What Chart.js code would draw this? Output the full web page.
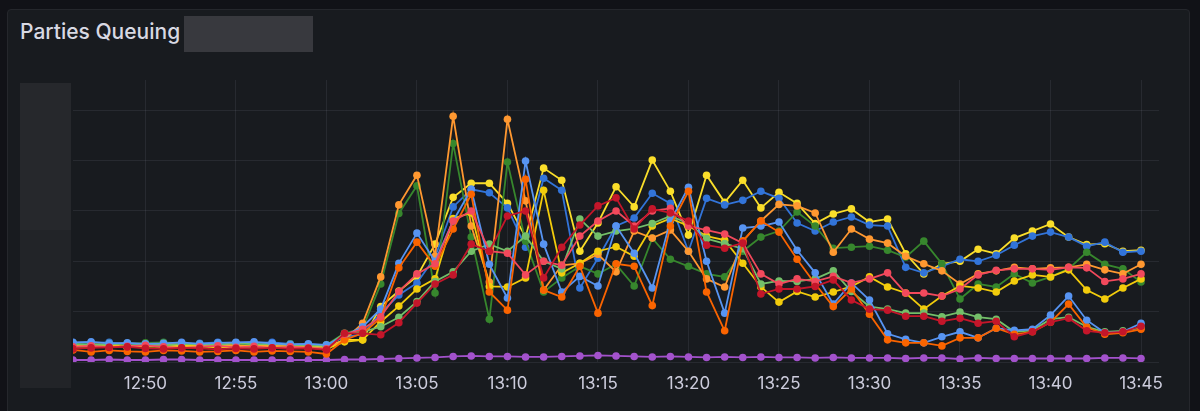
<!DOCTYPE html>
<html>
<head>
<meta charset="utf-8">
<script src="https://cdn.jsdelivr.net/npm/chart.js@4.4.1/dist/chart.umd.min.js"></script>
<style>
  html, body { margin: 0; padding: 0; background: #111217; width: 1200px; height: 411px; overflow: hidden; font-family: Inter, "Noto Sans", sans-serif; }
  .panel { position: absolute; left: 7px; top: 9px; width: 1183px; height: 430px; background: #181b1f; border: 1px solid #25272c; border-radius: 4px; box-sizing: border-box; }
  .title { position: absolute; left: 20px; top: 18px; font-size: 21px; font-weight: 500; color: #d8d9e3; line-height: 28px; }
  .hide-title { position: absolute; left: 184px; top: 16px; width: 129px; height: 36px; background: #38393e; }
  .hide-y1 { position: absolute; left: 20px; top: 83px; width: 51px; height: 147px; background: #26282c; z-index: 2; }
  .hide-y2 { position: absolute; left: 20px; top: 230px; width: 51px; height: 158px; background: #222428; z-index: 2; }
  #wrap { position: absolute; left: 20px; top: 70px; width: 1155px; height: 335px; }
</style>
</head>
<body>
<div class="panel"></div>
<div class="title">Parties Queuing</div>
<div class="hide-title"></div>
<div class="hide-y1"></div>
<div class="hide-y2"></div>
<div id="wrap"><canvas id="queueChart"></canvas></div>
<script>
const times = [
  "12:46","12:47","12:48","12:49","12:50","12:51","12:52","12:53","12:54","12:55",
  "12:56","12:57","12:58","12:59","13:00","13:01","13:02","13:03","13:04","13:05",
  "13:06","13:07","13:08","13:09","13:10","13:11","13:12","13:13","13:14","13:15",
  "13:16","13:17","13:18","13:19","13:20","13:21","13:22","13:23","13:24","13:25",
  "13:26","13:27","13:28","13:29","13:30","13:31","13:32","13:33","13:34","13:35",
  "13:36","13:37","13:38","13:39","13:40","13:41","13:42","13:43","13:44","13:45"
];
const xTickLabels = ["12:50","12:55","13:00","13:05","13:10","13:15","13:20","13:25","13:30","13:35","13:40","13:45"];
const xStart = "12:46";
const xEnd = "13:46";
const yTicks = [0, 10, 20, 30, 40, 50];
const yMax = 56;

const redDark = [
  2.6,2.8,2.9,3.0,2.7,2.6,2.8,2.7,2.5,2.7,2.6,2.8,2.6,2.7,2.4,
  5.7,5.7,5.4,7.8,11.7,15.5,17.3,23.4,22.0,29.0,
  30.0,16.7,22.8,27.2,31.0,32.6,26.4,30.4,29.6,28.0,
  23.2,22.6,23.6,13.5,14.5,14.5,15.0,16.3,12.3,10.5,
  10.3,9.1,9.1,8.1,8.7,7.7,8.1,5.0,6.0,7.9,
  8.7,6.2,5.8,6.0,7.1
];
const redLight = [
  3.0,3.2,2.9,3.1,3.3,3.0,2.8,3.0,3.2,2.9,3.1,2.8,3.0,2.8,2.6,
  5.5,6.5,9.0,14.0,17.5,19.5,28.0,30.0,22.0,21.6,
  17.3,20.0,19.2,25.0,28.0,30.0,27.0,30.0,30.5,27.0,
  26.2,25.4,23.6,17.5,15.5,16.5,16.0,17.0,15.7,16.5,
  17.7,13.7,13.7,13.1,14.5,17.3,18.2,18.5,18.5,18.3,
  18.8,18.7,16.0,16.5,17.5
];
const orangeDark = [
  2.4,2.0,2.3,2.1,2.0,2.3,2.2,2.0,2.1,2.3,2.0,2.2,2.1,2.0,1.6,
  4.4,5.7,8.7,18.7,23.8,19.0,26.4,33.3,13.9,10.3,
  36.3,14.3,12.9,19.0,9.7,19.5,19.0,11.2,27.0,33.9,
  13.9,6.2,24.0,28.0,25.8,20.4,15.5,11.0,14.5,9.5,
  4.4,3.8,3.8,3.2,4.8,4.8,6.7,5.5,6.0,7.9,
  11.5,6.9,5.5,5.8,6.5
];
const orangeLight = [
  3.2,3.5,3.4,3.0,3.3,3.6,3.4,3.2,3.5,3.3,3.1,3.4,3.2,3.0,2.6,
  4.4,7.7,16.9,31.2,37.1,21.0,48.8,27.0,15.9,48.2,
  32.0,14.3,19.2,19.6,21.4,17.9,26.0,24.6,26.2,22.0,
  16.5,14.9,24.0,28.0,31.3,31.0,29.6,21.8,26.4,24.4,
  23.6,21.0,19.5,18.1,15.5,17.5,18.1,18.8,18.5,18.7,
  18.8,19.4,18.3,17.5,19.4
];
const greenDark = [
  3.8,3.9,3.7,3.6,3.8,3.9,3.7,3.6,3.5,3.7,3.4,3.5,3.6,3.3,3.4,
  5.7,6.7,15.5,29.5,35.0,13.7,43.4,24.8,8.5,39.7,
  24.0,13.9,16.7,19.0,17.5,19.4,15.1,24.6,20.4,19.0,
  17.5,16.9,22.0,24.8,26.0,29.8,27.0,22.6,22.8,23.0,
  22.2,20.8,24.0,19.5,12.5,15.5,14.9,17.5,15.7,16.9,
  18.5,21.8,19.4,18.5,15.9
];
const greenLight = [
  3.6,3.4,3.5,3.7,3.5,3.3,3.6,3.5,3.4,3.8,3.5,3.6,3.4,3.3,3.2,
  5.7,6.0,7.0,8.9,12.0,16.0,17.9,22.0,23.4,22.0,
  25.0,20.0,18.5,28.4,25.0,26.0,26.5,27.5,29.0,27.5,
  24.5,23.5,22.5,15.5,16.1,16.0,16.5,18.1,14.0,11.0,
  10.5,9.7,9.7,9.0,9.9,8.9,8.5,6.0,6.3,8.5,
  8.9,7.0,6.0,6.2,6.8
];
const yellowA = [
  3.5,3.3,3.6,3.4,3.2,3.5,3.3,3.4,3.2,3.3,3.5,3.2,3.3,3.1,3.0,
  4.4,4.4,11.0,14.1,17.0,23.4,32.7,35.5,35.5,31.5,
  24.8,38.5,36.1,22.0,27.6,34.8,30.8,40.1,33.9,25.2,
  37.1,31.7,36.1,30.6,33.7,31.5,27.5,29.4,30.4,27.8,
  28.4,21.5,17.5,19.5,20.0,22.4,21.5,24.6,26.0,27.4,
  24.8,23.3,23.5,22.0,22.2
];
const yellowB = [
  3.1,3.0,3.2,2.9,3.1,3.0,3.2,3.1,2.9,3.0,3.1,3.0,2.9,2.8,2.6,
  4.0,4.4,8.0,11.1,14.5,16.5,28.5,29.6,15.0,14.9,
  16.7,34.1,17.7,19.6,22.0,22.9,21.0,27.0,28.5,27.0,
  25.0,24.2,19.6,14.9,11.9,14.0,12.9,13.9,15.0,16.9,
  14.9,13.7,10.5,13.1,15.1,14.7,13.9,16.1,17.3,16.9,
  18.3,14.3,12.5,14.7,16.5
];
const blueDark = [
  3.7,3.8,3.9,3.5,3.6,3.8,3.6,3.7,3.9,3.6,3.8,3.9,3.6,3.5,3.3,
  5.0,5.5,9.7,13.3,15.7,20.8,30.8,34.3,33.6,30.6,
  22.8,36.5,34.1,14.7,20.6,27.0,28.6,33.5,31.5,22.0,
  32.5,31.2,32.1,33.9,32.5,27.6,26.0,27.8,28.8,27.2,
  27.0,18.8,17.7,19.0,20.4,20.0,21.2,23.2,25.0,25.8,
  24.8,23.0,23.8,21.8,22.0
];
const blueLight = [
  3.9,4.0,3.7,3.8,3.6,3.7,3.9,3.6,3.8,3.9,4.0,3.7,3.5,3.6,3.4,
  5.2,7.0,10.5,19.6,25.6,20.0,28.0,34.3,19.4,12.7,
  39.9,23.4,13.9,17.0,15.1,27.0,21.6,14.7,28.0,34.7,
  20.0,9.7,26.6,27.0,27.8,22.2,17.7,11.5,15.7,12.3,
  5.6,4.5,3.8,5.0,6.0,4.8,6.7,6.3,6.5,9.3,
  13.1,8.3,5.8,6.0,7.7
];
const purple = [
  0.4,0.4,0.5,0.4,0.4,0.5,0.5,0.4,0.4,0.4,0.4,0.4,0.4,0.4,0.4,
  0.5,0.5,0.6,0.7,0.8,0.9,1.1,1.2,1.1,1.1,
  1.0,1.0,1.1,1.2,1.3,1.2,1.1,1.0,1.1,1.0,
  0.9,1.0,0.9,1.0,0.9,0.9,0.8,0.9,0.8,0.8,
  0.8,0.7,0.8,0.8,0.6,0.8,0.7,0.7,0.7,0.7,
  0.7,0.7,0.8,0.8,0.7
];

// minutes since 12:00
function toMin(t) {
  const [h, m] = t.split(":").map(Number);
  return (h - 12) * 60 + m;
}
function fmt(v) {
  const h = 12 + Math.floor(v / 60);
  const m = Math.round(v % 60);
  return h + ":" + String(m).padStart(2, "0");
}

const series = [
  { name: "redDark", color: "#C4162A", values: redDark },
  { name: "redLight", color: "#F2495C", values: redLight },
  { name: "orangeDark", color: "#FA6400", values: orangeDark },
  { name: "blueLight", color: "#5794F2", values: blueLight },
  { name: "greenLight", color: "#73BF69", values: greenLight },
  { name: "yellowB", color: "#F2CC0C", values: yellowB },
  { name: "orangeLight", color: "#FF9830", values: orangeLight },
  { name: "greenDark", color: "#37872D", values: greenDark },
  { name: "blueDark", color: "#3274D9", values: blueDark },
  { name: "yellowA", color: "#FADE2A", values: yellowA },
  { name: "purple", color: "#A352CC", values: purple }
];

const gridColor = "rgba(204,204,220,0.09)";

new Chart(document.getElementById("queueChart"), {
  type: "line",
  data: {
    datasets: series.map(s => ({
      label: s.name,
      data: s.values.map((v, i) => ({ x: toMin(times[i]), y: v })),
      borderColor: s.color,
      backgroundColor: s.color,
      pointBackgroundColor: s.color,
      pointBorderWidth: 0,
      pointRadius: 3.8,
      borderWidth: 1.8,
      tension: 0
    }))
  },
  options: {
    responsive: true,
    maintainAspectRatio: false,
    animation: false,
    layout: { padding: { top: 10, right: 10 } },
    plugins: { legend: { display: false }, tooltip: { enabled: false } },
    scales: {
      x: {
        type: "linear",
        min: toMin(xStart),
        max: toMin(xEnd),
        afterBuildTicks: scale => { scale.ticks = xTickLabels.map(t => ({ value: toMin(t) })); },
        afterFit: scale => { scale.height = 43; },
        grid: { color: gridColor, drawTicks: false },
        border: { display: false },
        ticks: {
          color: "#ccccdc",
          padding: 12,
          maxRotation: 0,
          autoSkip: false,
          font: { family: "Inter", size: 17 },
          callback: v => fmt(v)
        }
      },
      y: {
        min: 0,
        max: yMax,
        afterBuildTicks: scale => { scale.ticks = yTicks.map(v => ({ value: v })); },
        afterFit: scale => { scale.width = 53; },
        grid: { color: gridColor, drawTicks: false },
        border: { display: false },
        ticks: { display: false }
      }
    }
  }
});
</script>
</body>
</html>
